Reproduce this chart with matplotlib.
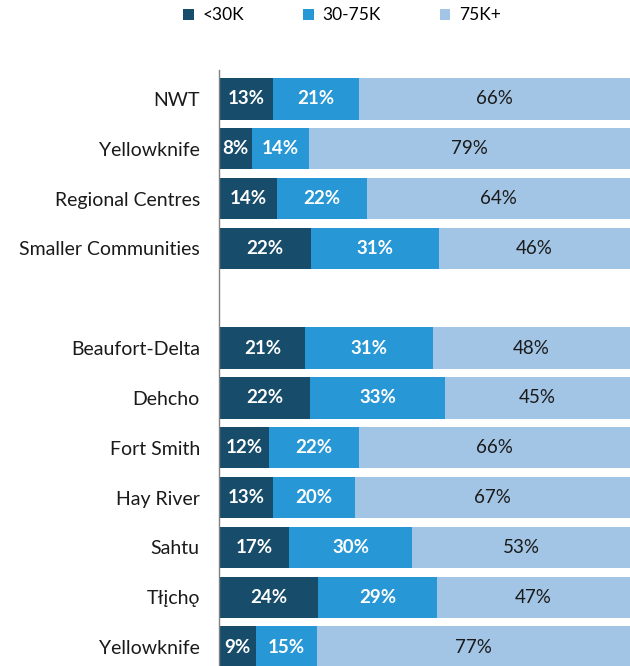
import numpy as np
import matplotlib.pyplot as plt
from matplotlib.patches import Patch

plt.rcParams['font.family'] = ['Lato', 'DejaVu Sans']

regions = ['NWT', 'Yellowknife', 'Regional Centres', 'Smaller Communities', '',
           'Beaufort-Delta', 'Dehcho', 'Fort Smith', 'Hay River', 'Sahtu',
           'Tłįchǫ', 'Yellowknife']
under_30k = [13, 8, 14, 22, None, 21, 22, 12, 13, 17, 24, 9]
mid_30_75k = [21, 14, 22, 31, None, 31, 33, 22, 20, 30, 29, 15]
over_75k = [66, 79, 64, 46, None, 48, 45, 66, 67, 53, 47, 77]

series_names = ['<30K', '30-75K', '75K+']
colors = ['#174c6b', '#2797d5', '#a3c5e5']
text_colors = ['white', 'white', '#1a1a1a']
weights = ['bold', 'bold', 'normal']

fig = plt.figure(figsize=(6.3, 6.66), dpi=100)
ax = fig.add_axes([0.348, 0.0, 0.652, 0.895])

# 100% stacked: scale each row to its total
totals = np.array([0 if a is None else a + b + c
                   for a, b, c in zip(under_30k, mid_30_75k, over_75k)], dtype=float)
totals[totals == 0] = 1

y = np.arange(len(regions))
left = np.zeros(len(regions))
for vals, c, tc, w in zip([under_30k, mid_30_75k, over_75k], colors, text_colors, weights):
    v = np.array([0 if x is None else x for x in vals], dtype=float) / totals * 100
    ax.barh(y, v, left=left, height=0.83, color=c, edgecolor='none')
    for i, x in enumerate(vals):
        if x is None:
            continue
        ax.text(left[i] + v[i] / 2, y[i], f'{x}%', ha='center', va='center',
                color=tc, fontsize=13.5, fontweight=w)
    left += v

ax.set_xlim(0, 100)
ax.set_ylim(len(regions) - 0.62, -0.58)
ax.set_yticks(y)
ax.set_yticklabels(regions, fontsize=14, color='#1a1a1a')
ax.tick_params(axis='y', length=0, pad=14)
ax.set_xticks([])
for s in ['top', 'right', 'bottom']:
    ax.spines[s].set_visible(False)
ax.spines['left'].set_color('#808080')
ax.spines['left'].set_linewidth(1)

handles = [Patch(facecolor=c, edgecolor='none') for c in colors]
fig.legend(handles, series_names, loc='center', bbox_to_anchor=(0.543, 0.977),
           ncol=3, frameon=False, fontsize=12.5, handlelength=0.6, handleheight=0.6,
           columnspacing=3.4, handletextpad=0.5)

fig.savefig('out.png', dpi=100)
